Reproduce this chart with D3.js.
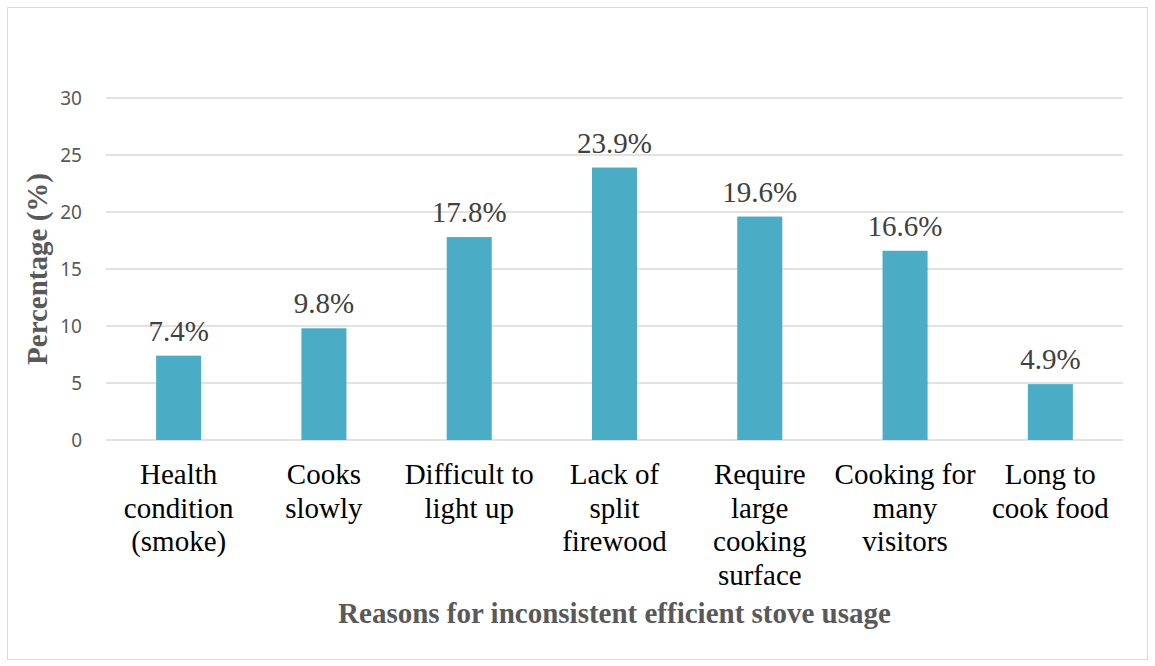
<!DOCTYPE html>
<html>
<head>
<meta charset="utf-8">
<script src="https://cdn.jsdelivr.net/npm/d3@7"></script>
<style>
  body { margin: 0; background: #fff; }
  svg { display: block; }
</style>
</head>
<body>
<div id="chart"></div>
<script>
const categories = ["Health condition (smoke)", "Cooks slowly", "Difficult to light up", "Lack of split firewood",
  "Require large cooking surface", "Cooking for many visitors", "Long to cook food"];
const values = [7.4, 9.8, 17.8, 23.9, 19.6, 16.6, 4.9];
const yTicks = [0, 5, 10, 15, 20, 25, 30];
const xTitle = "Reasons for inconsistent efficient stove usage";
const yTitle = "Percentage (%)";

const W = 1155, H = 666;
const plot = {left: 106, right: 1123, top: 98, bottom: 440};

const svg = d3.select("#chart").append("svg")
  .attr("width", W).attr("height", H);

// outer frame
svg.append("rect")
  .attr("x", 7.5).attr("y", 7.5)
  .attr("width", 1140).attr("height", 652)
  .attr("fill", "#fff")
  .attr("stroke", "#d9d9d9").attr("stroke-width", 1);

const x = d3.scaleBand().domain(categories).range([plot.left, plot.right]).padding(0);
const y = d3.scaleLinear().domain([0, 30]).range([plot.bottom, plot.top]);
const barW = x.bandwidth() * 0.31;

// gridlines
svg.append("g").selectAll("line")
  .data(yTicks)
  .enter().append("line")
  .attr("x1", plot.left).attr("x2", plot.right)
  .attr("y1", d => y(d)).attr("y2", d => y(d))
  .attr("stroke", "#d9d9d9").attr("stroke-width", 1.5);

// y tick labels
svg.append("g").selectAll("text")
  .data(yTicks)
  .enter().append("text")
  .attr("x", 82)
  .attr("y", d => y(d))
  .attr("dy", "0.36em")
  .attr("text-anchor", "end")
  .style("font-family", "'Noto Sans', sans-serif")
  .style("font-size", "19px")
  .attr("fill", "#595959")
  .text(d => d);

// bars
svg.append("g").selectAll("rect")
  .data(values)
  .enter().append("rect")
  .attr("x", (d, i) => x(categories[i]) + (x.bandwidth() - barW) / 2)
  .attr("y", d => y(d))
  .attr("width", barW)
  .attr("height", d => y(0) - y(d))
  .attr("fill", "#4bacc6");

// data labels
svg.append("g").selectAll("text")
  .data(values)
  .enter().append("text")
  .attr("x", (d, i) => x(categories[i]) + x.bandwidth() / 2)
  .attr("y", d => y(d) - 15)
  .attr("text-anchor", "middle")
  .style("font-family", "'Liberation Serif', 'Times New Roman', serif")
  .style("font-size", "29px")
  .attr("fill", "#404040")
  .text(d => d.toFixed(1) + "%");

// category labels, wrapped
const wrap = (text, width) => {
  text.each(function() {
    const t = d3.select(this);
    const words = t.text().split(/\s+/).reverse();
    const xx = t.attr("x"), yy = t.attr("y");
    let line = [], n = 0, word;
    let tspan = t.text(null).append("tspan").attr("x", xx).attr("y", yy);
    while (word = words.pop()) {
      line.push(word);
      tspan.text(line.join(" "));
      if (tspan.node().getComputedTextLength() > width && line.length > 1) {
        line.pop();
        tspan.text(line.join(" "));
        line = [word];
        n++;
        tspan = t.append("tspan").attr("x", xx).attr("y", +yy + n * 33.5).text(word);
      }
    }
  });
};

svg.append("g").selectAll("text")
  .data(categories)
  .enter().append("text")
  .attr("x", d => x(d) + x.bandwidth() / 2)
  .attr("y", 484)
  .attr("text-anchor", "middle")
  .style("font-family", "'Liberation Serif', 'Times New Roman', serif")
  .style("font-size", "29px")
  .attr("fill", "#000")
  .text(d => d)
  .call(wrap, 144);

// axis titles
svg.append("text")
  .attr("x", (plot.left + plot.right) / 2)
  .attr("y", 623)
  .attr("text-anchor", "middle")
  .style("font-family", "'Liberation Serif', 'Times New Roman', serif")
  .style("font-size", "29px")
  .style("font-weight", "bold")
  .attr("fill", "#595959")
  .text(xTitle);

svg.append("text")
  .attr("transform", "translate(47," + ((plot.top + plot.bottom) / 2) + ") rotate(-90)")
  .attr("text-anchor", "middle")
  .style("font-family", "'Liberation Serif', 'Times New Roman', serif")
  .style("font-size", "29px")
  .style("font-weight", "bold")
  .attr("fill", "#595959")
  .text(yTitle);
</script>
</body>
</html>
